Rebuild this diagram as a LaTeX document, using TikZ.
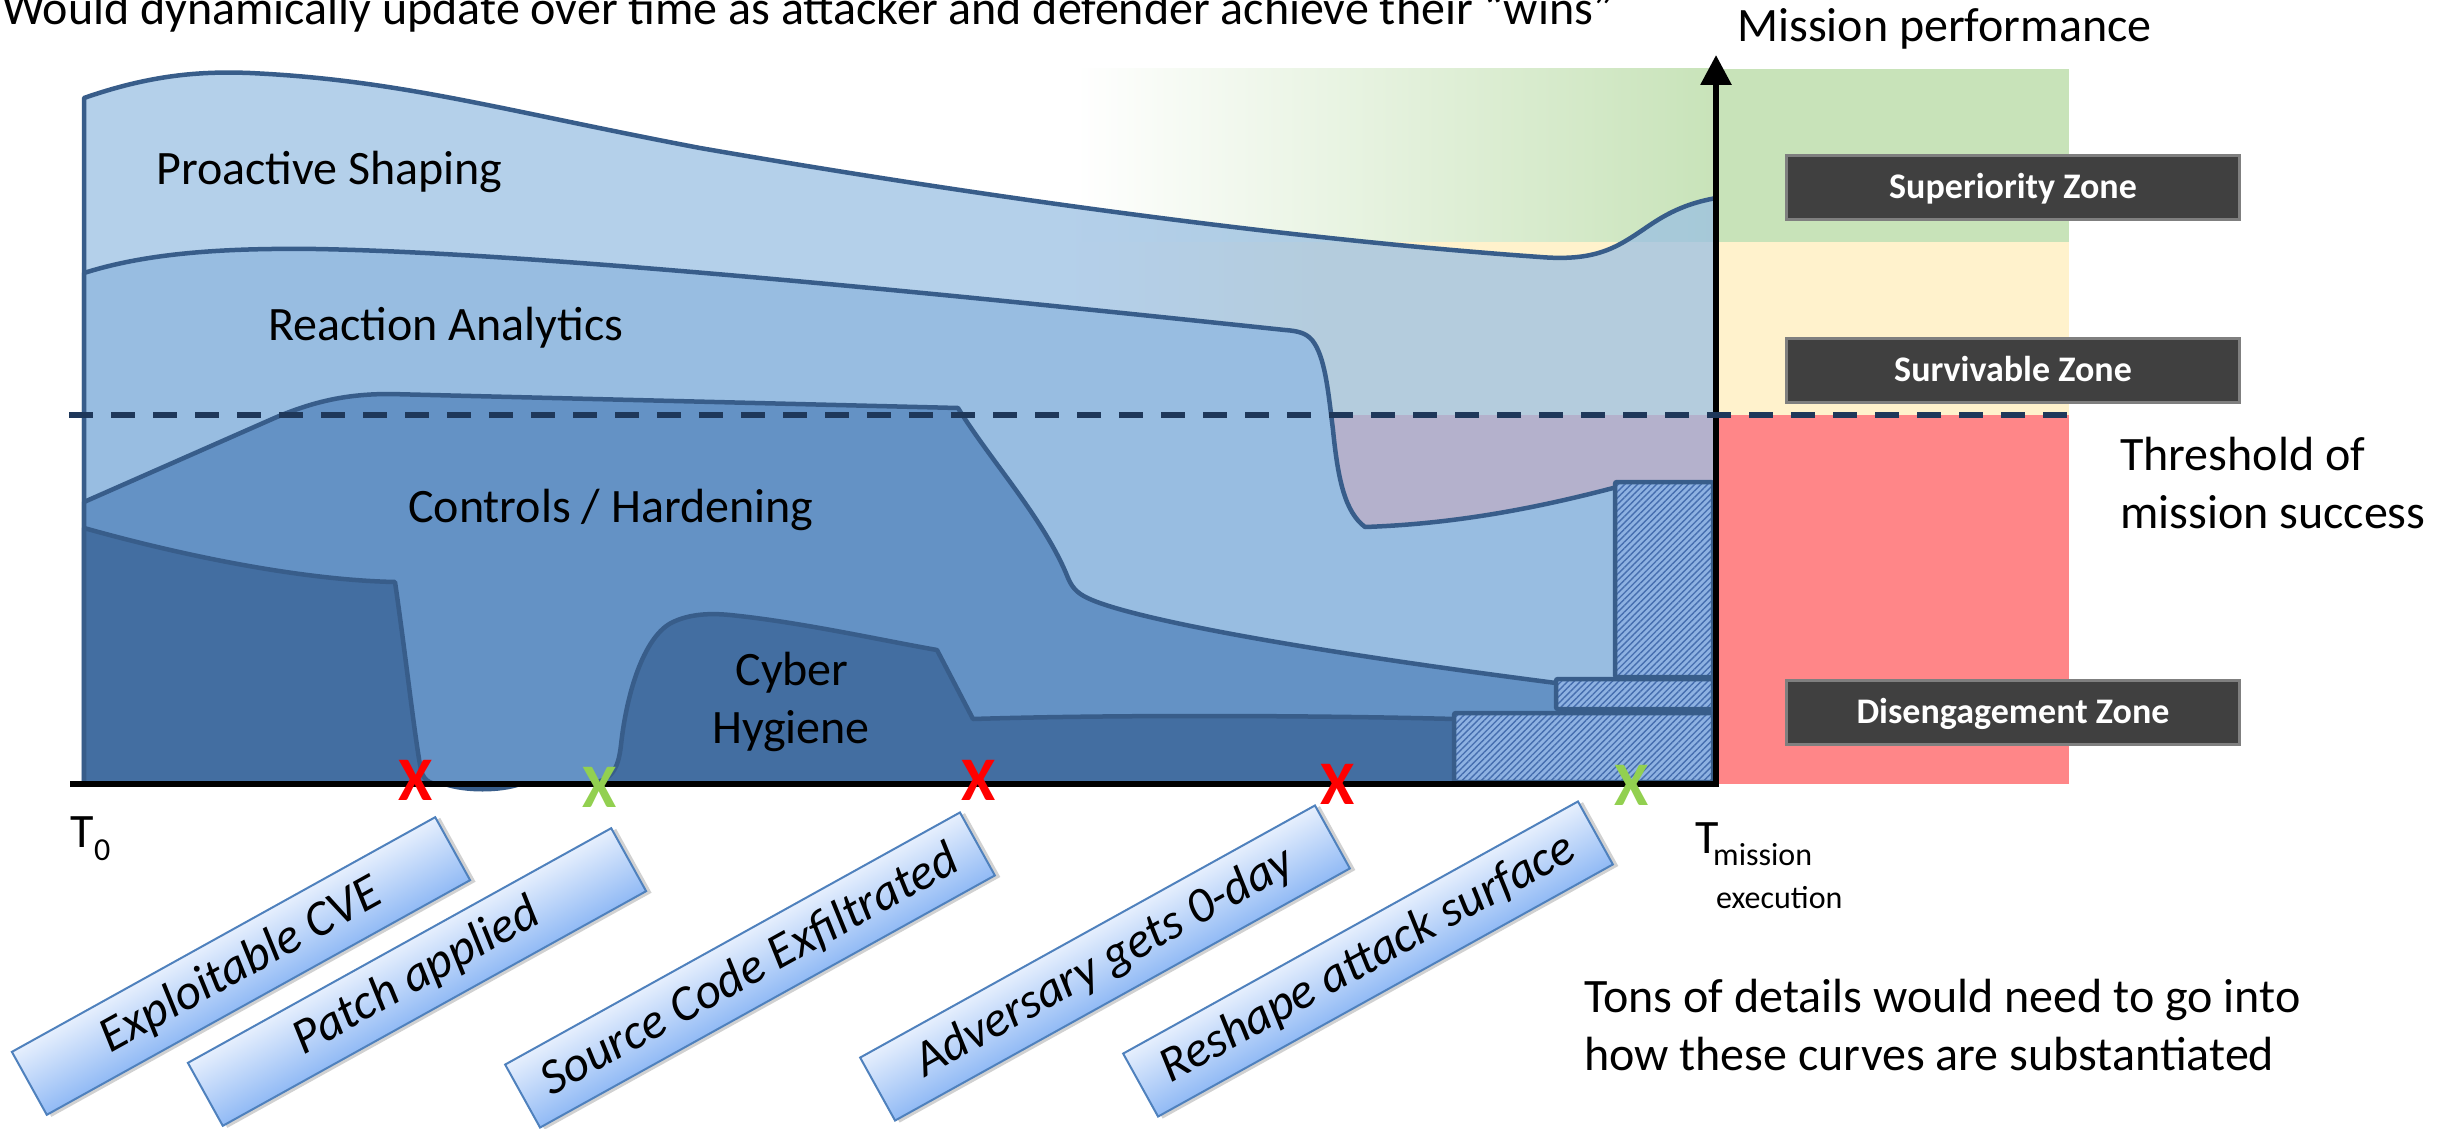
\documentclass[tikz,border=0pt]{standalone}
\usepackage{fontspec}
\setmainfont{Carlito}
\usetikzlibrary{arrows.meta,patterns.meta}

\definecolor{edgeblue}{RGB}{56,93,138}
\definecolor{proactivefill}{RGB}{155,192,227}
\definecolor{reactfill}{RGB}{152,189,225}
\definecolor{ctrlfill}{RGB}{100,146,197}
\definecolor{hygfill}{RGB}{67,110,161}
\definecolor{hatchfill}{RGB}{142,178,226}
\definecolor{hatchline}{RGB}{70,110,175}
\definecolor{zgreen}{RGB}{200,227,185}
\definecolor{zyellow}{RGB}{255,242,204}
\definecolor{zred}{RGB}{255,134,136}
\definecolor{threshcol}{RGB}{31,56,90}
\definecolor{zonegray}{RGB}{64,64,64}
\definecolor{zoneedge}{RGB}{127,127,127}
\definecolor{boxedge}{RGB}{79,129,189}
\definecolor{boxtop}{RGB}{230,239,253}
\definecolor{boxbottom}{RGB}{145,186,245}
\definecolor{lossred}{RGB}{255,0,0}
\definecolor{wingreen}{RGB}{146,208,80}

\begin{document}
\begin{tikzpicture}[x=1pt,y=-1pt,
  layer/.style={draw=edgeblue, line width=4.5pt, line join=round},
  hatchbox/.style={draw=edgeblue, line width=4.5pt, rounded corners=2pt,
    preaction={fill=hatchfill},
    pattern={Lines[angle=45,distance=4.5pt,line width=1.4pt]}, pattern color=hatchline},
  bigtext/.style={font=\fontsize{48}{58}\selectfont, inner sep=0pt, anchor=base west},
  subtext/.style={font=\fontsize{32}{38}\selectfont, inner sep=0pt, anchor=base west},
  xmark/.style={font=\fontsize{62}{62}\selectfont\bfseries, inner sep=0pt},
  zonebox/.style={fill=zonegray, draw=zoneedge, line width=3pt,
    minimum width=453pt, minimum height=64pt, inner sep=0pt, text=white,
    text height=23pt, text depth=0pt,
    font=\fontsize{36}{40}\selectfont\bfseries},
  eventbox/.style={draw=boxedge, line width=2pt, minimum height=72pt,
    inner sep=0pt, top color=boxtop, bottom color=boxbottom,
    font=\fontsize{50}{54}\selectfont\itshape},
  tagshadow/.style={fill=black, opacity=0.18}]
\useasboundingbox (0,0) rectangle (2443,1129);

% performance zones, fading in from the left
\shade[left color=white, right color=zgreen] (1076,69) rectangle (1717,242);
\fill[zgreen] (1716,69) rectangle (2069,242);
\shade[left color=white, right color=zyellow] (1076,242) rectangle (1331,415);
\fill[zyellow] (1330,242) rectangle (2069,415);
\shade[left color=white, right color=zred] (1076,415) rectangle (1331,784);
\fill[zred] (1330,415) rectangle (2069,784);

% capability layers, back to front
\path[layer, fill=proactivefill, fill opacity=0.75] (84,784) -- (84,98)
  .. controls (150,75) and (200,71) .. (250,73)
  .. controls (400,80) and (500,110) .. (700,148)
  .. controls (1000,200) and (1300,240) .. (1540,257)
  .. controls (1600,262) and (1620,245) .. (1650,225)
  .. controls (1675,208) and (1695,202) .. (1716,198)
  -- (1716,784) -- cycle;

\path[layer, fill=reactfill] (84,784) -- (84,273)
  .. controls (150,252) and (230,248) .. (316,249)
  .. controls (550,253) and (1000,300) .. (1285,330)
  .. controls (1298,331) and (1306,333) .. (1312,340)
  .. controls (1325,356) and (1328,390) .. (1333,430)
  .. controls (1338,480) and (1345,512) .. (1365,527)
  .. controls (1450,524) and (1530,510) .. (1617,487)
  -- (1640,540) -- (1716,540) -- (1716,784) -- cycle;

\path[layer, fill=ctrlfill] (84,784) -- (84,502) -- (270,420)
  .. controls (315,400) and (350,394) .. (390,394)
  -- (958,408)
  .. controls (990,460) and (1045,520) .. (1068,578)
  .. controls (1073,590) and (1080,595) .. (1092,600)
  .. controls (1140,620) and (1300,650) .. (1556,683)
  -- (1716,700) -- (1716,784) -- (520,784)
  .. controls (500,791) and (465,791) .. (445,784) -- cycle;

\path[layer, fill=hygfill] (84,784) -- (84,528)
  .. controls (180,555) and (300,580) .. (395,582)
  .. controls (405,650) and (415,740) .. (421,770)
  .. controls (424,782) and (432,785) .. (445,784)
  -- (585,784)
  .. controls (610,782) and (618,772) .. (621,745)
  .. controls (627,690) and (645,635) .. (673,622)
  .. controls (690,614) and (710,613) .. (730,615)
  .. controls (800,622) and (880,640) .. (937,650)
  -- (973,719)
  .. controls (1100,715) and (1300,715) .. (1455,719)
  -- (1716,722) -- (1716,784) -- cycle;

% attack-surface reshaping blocks
\path[hatchbox] (1454,713) rectangle (1713,782);
\path[hatchbox] (1556,679) rectangle (1713,709);
\path[hatchbox] (1615,482) rectangle (1713,677);

% axes
\coordinate (origin) at (70,784);
\coordinate (tend) at (1719,784);
\coordinate (ybase) at (1716,787);
\coordinate (ytop) at (1716,55);
\draw[line width=6pt] (origin) -- (tend);
\draw[line width=6pt, -{Triangle[width=30pt,length=30pt]}] (ybase) -- (ytop);

% threshold of mission success
\coordinate (thl) at (69,415);
\coordinate (thr) at (2069,415);
\draw[threshcol, line width=6.5pt, dash pattern=on 24pt off 18pt] (thl) -- (thr);

% layer labels
\node[bigtext] (lps) at (156,184) {Proactive Shaping};
\node[bigtext] (lra) at (268,340) {Reaction Analytics};
\node[bigtext] (lch) at (408,522) {Controls / Hardening};
\node[bigtext, anchor=base] (lcy) at (792,685) {Cyber};
\node[bigtext, anchor=base] (lhy) at (791,743) {Hygiene};

% win / loss markers
\node[xmark, text=lossred] (x1) at (416,780) {X};
\node[xmark, text=wingreen] (x2) at (600,787) {X};
\node[xmark, text=lossred] (x3) at (979,780) {X};
\node[xmark, text=lossred] (x4) at (1338,784) {X};
\node[xmark, text=wingreen] (x5) at (1632,785) {X};

% event tags, each drawn in its own tilted frame
\begin{scope}[transform canvas={shift={(241,966)}, rotate=29}]
  \fill[tagshadow] (-239,-33) rectangle (246,40);
  \node[eventbox, minimum width=484pt] (e1) at (0,0) {Exploitable CVE};
\end{scope}
\begin{scope}[transform canvas={shift={(417,977)}, rotate=29}]
  \fill[tagshadow] (-239,-33) rectangle (246,40);
  \node[eventbox, minimum width=484pt] (e2) at (0,0) {Patch applied};
\end{scope}
\begin{scope}[transform canvas={shift={(750,970)}, rotate=29}]
  \fill[tagshadow] (-257,-33) rectangle (264,40);
  \node[eventbox, minimum width=520pt] (e3) at (0,0) {Source Code Exfiltrated};
\end{scope}
\begin{scope}[transform canvas={shift={(1105,963)}, rotate=29}]
  \fill[tagshadow] (-257,-33) rectangle (264,40);
  \node[eventbox, minimum width=520pt] (e4) at (0,0) {Adversary gets 0-day};
\end{scope}
\begin{scope}[transform canvas={shift={(1368,959)}, rotate=29}]
  \fill[tagshadow] (-257,-33) rectangle (264,40);
  \node[eventbox, minimum width=520pt] (e5) at (0,0) {Reshape attack surface};
\end{scope}

% zone labels
\node[zonebox] (zs) at (2013,187) {Superiority Zone};
\node[zonebox] (zv) at (2013,370) {Survivable Zone};
\node[zonebox] (zd) at (2013,712) {Disengagement Zone};

% time axis labels
\node[bigtext] (t0) at (70,847) {T};
\node[subtext] (t0s) at (94,860) {0};
\node[bigtext] (tm) at (1695,853) {T};
\node[subtext] (tms) at (1713,865) {mission};
\node[subtext] (tme) at (1716,908) {execution};

% other text
\node[bigtext] (title) at (2,25) {Would dynamically update over time as attacker and defender achieve their “wins”};
\node[bigtext] (perf) at (1737,42) {Mission performance};
\node[bigtext] (th1) at (2120,470) {Threshold of};
\node[bigtext] (th2) at (2120,528) {mission success};
\node[bigtext] (nt1) at (1584,1012) {Tons of details would need to go into};
\node[bigtext] (nt2) at (1584,1070) {how these curves are substantiated};
\end{tikzpicture}
\end{document}
